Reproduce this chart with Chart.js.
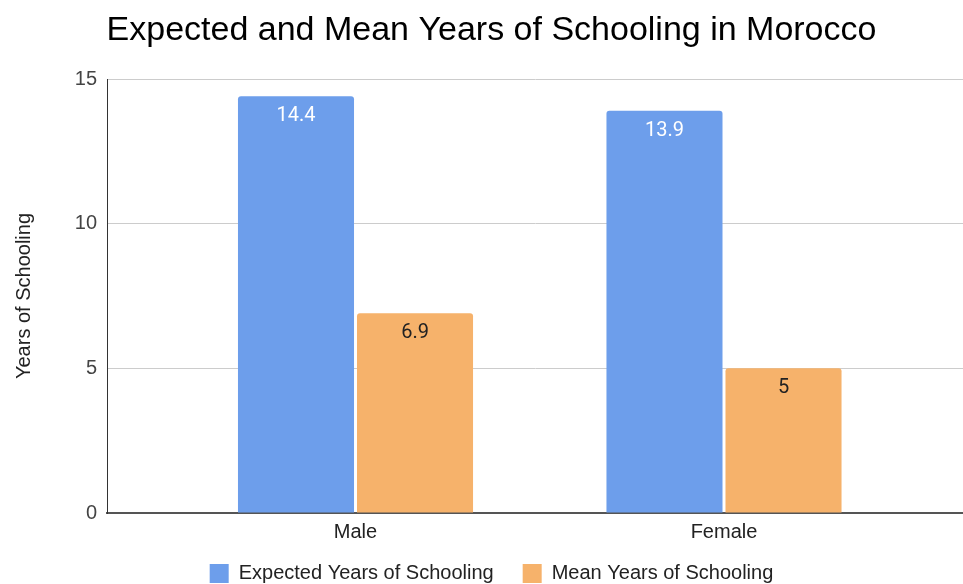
<!DOCTYPE html>
<html>
<head>
<meta charset="utf-8">
<script src="https://cdn.jsdelivr.net/npm/chart.js"></script>
<style>
  html, body { margin: 0; padding: 0; background: #ffffff; }
  #wrap { width: 963px; height: 584px; }
</style>
</head>
<body>
<div id="wrap"><canvas id="chart" width="963" height="584"></canvas></div>
<script>
// chart data
const categories = ['Male', 'Female'];
const expectedYears = [14.4, 13.9];
const meanYears = [6.9, 5];
const seriesNames = ['Expected Years of Schooling', 'Mean Years of Schooling'];
const yTicks = [0, 5, 10, 15];

const FONT = 'Arial, "Liberation Sans", sans-serif';
// x range chosen so the two groups sit where the original puts them
const X_MIN = -0.6744, X_MAX = 1.6486;

// value labels drawn inside the top of each bar
const barLabels = {
    id: 'barLabels',
    afterDatasetsDraw(chart) {
        const ctx = chart.ctx;
        ctx.save();
        ctx.font = '20px Roboto, "Noto Sans", sans-serif';
        ctx.textAlign = 'center';
        ctx.textBaseline = 'middle';
        chart.data.datasets.forEach((ds, i) => {
            const meta = chart.getDatasetMeta(i);
            meta.data.forEach((bar, j) => {
                ctx.fillStyle = i === 0 ? '#ffffff' : '#222222';
                ctx.fillText(String(ds.data[j].y), bar.x, bar.y + 20);
            });
        });
        ctx.restore();
    }
};

// pull the legend up a little so it sits tight under the category labels
const legendNudge = {
    id: 'legendNudge',
    afterLayout(chart) {
        const lg = chart.legend;
        if (!lg) return;
        lg.top -= 10.5;
        lg.bottom -= 10.5;
    }
};

const toPoints = vals => vals.map((v, i) => ({ x: i, y: v }));

new Chart(document.getElementById('chart'), {
    type: 'bar',
    data: {
        datasets: [
            {
                label: seriesNames[0],
                data: toPoints(expectedYears),
                backgroundColor: '#6d9eeb',
                borderRadius: { topLeft: 3, topRight: 3 },
                borderSkipped: 'bottom',
                categoryPercentage: 0.646,
                barPercentage: 0.975
            },
            {
                label: seriesNames[1],
                data: toPoints(meanYears),
                backgroundColor: '#f6b26b',
                borderRadius: { topLeft: 3, topRight: 3 },
                borderSkipped: 'bottom',
                categoryPercentage: 0.646,
                barPercentage: 0.975
            }
        ]
    },
    options: {
        responsive: false,
        animation: false,
        layout: { padding: { left: 20, right: 0, top: 0, bottom: -20 } },
        plugins: {
            title: {
                display: true,
                text: 'Expected and Mean Years of Schooling in Morocco',
                color: '#000000',
                font: { family: FONT, size: 34, weight: 'normal' },
                padding: { top: 10, bottom: 28.2 }
            },
            legend: {
                position: 'bottom',
                labels: {
                    color: '#222222',
                    font: { family: FONT, size: 20 },
                    boxWidth: 19,
                    boxHeight: 19,
                    padding: 29
                }
            },
            tooltip: { enabled: false }
        },
        scales: {
            x: {
                type: 'linear',
                offset: false,
                bounds: 'data',
                min: X_MIN,
                max: X_MAX,
                afterDataLimits: axis => { axis.min = X_MIN; axis.max = X_MAX; },
                afterFit: axis => { axis.height = 32; },
                grid: { display: false, drawTicks: false, offset: false },
                border: { color: '#555555', width: 2 },
                afterBuildTicks: axis => { axis.ticks = categories.map((c, i) => ({ value: i })); },
                ticks: {
                    color: '#222222',
                    font: { family: FONT, size: 20 },
                    padding: 7,
                    callback: v => categories[v]
                }
            },
            y: {
                min: 0,
                max: 15,
                afterBuildTicks: axis => { axis.ticks = yTicks.map(v => ({ value: v })); },
                afterFit: axis => { axis.width = 87; },
                grid: { color: '#cccccc', drawTicks: false },
                border: { color: '#333333', width: 1 },
                ticks: {
                    color: '#444444',
                    font: { family: FONT, size: 20 },
                    padding: 10
                },
                title: {
                    display: true,
                    text: 'Years of Schooling',
                    color: '#222222',
                    font: { family: FONT, size: 20 },
                    padding: { top: -8, bottom: 0 }
                }
            }
        }
    },
    plugins: [barLabels, legendNudge]
});
</script>
</body>
</html>
